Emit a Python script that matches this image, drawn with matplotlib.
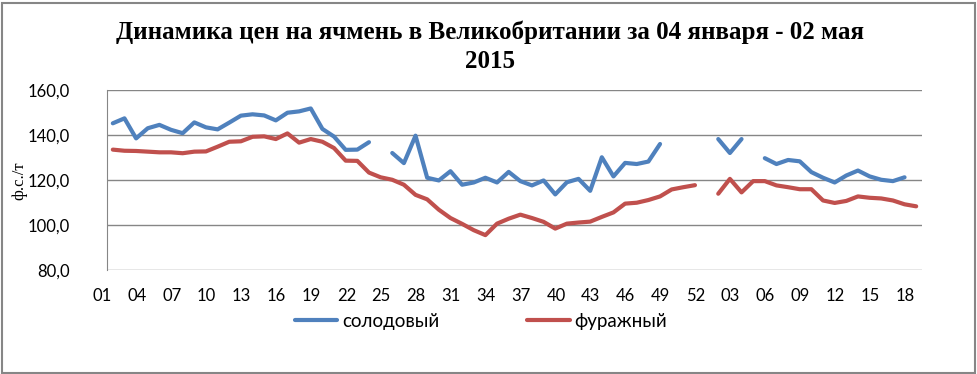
import numpy as np
import matplotlib
matplotlib.use("Agg")
import matplotlib.pyplot as plt
import matplotlib.transforms as mtransforms
from matplotlib.patches import Rectangle

nan = np.nan

# weeks: 2014 weeks 01..52, then 2015 weeks 01..18
weeks = [f"{w:02d}" for w in range(1, 53)] + [f"{w:02d}" for w in range(1, 19)]

malting = [145.2, 147.4, 138.5, 143.0, 144.5, 142.3, 140.8, 145.6, 143.4, 142.5,
           145.5, 148.6, 149.2, 148.7, 146.5, 149.9, 150.5, 151.8, 142.7, 139.3,
           133.4, 133.5, 136.8, nan, 132.0, 127.5, 139.7, 121.0, 119.8, 123.9,
           117.9, 118.9, 121.0, 118.9, 123.6, 119.5, 117.6, 119.8, 113.6, 119.0,
           120.5, 115.2, 130.1, 121.6, 127.6, 127.1, 128.2, 136.0, nan, nan,
           nan, nan, 138.2, 132.0, 138.2, nan, 129.7, 127.1, 128.9, 128.3,
           123.5, 121.0, 118.9, 122.0, 124.2, 121.6, 120.1, 119.5, 121.2, nan]

feed = [133.5, 133.0, 132.9, 132.6, 132.3, 132.3, 131.9, 132.6, 132.7, 134.8,
        137.0, 137.2, 139.2, 139.4, 138.2, 140.7, 136.6, 138.2, 137.0, 134.2,
        128.6, 128.5, 123.3, 121.2, 120.1, 117.9, 113.4, 111.4, 106.8, 103.1,
        100.5, 97.7, 95.5, 100.6, 102.8, 104.6, 103.1, 101.4, 98.4, 100.6,
        101.1, 101.5, 103.6, 105.6, 109.5, 109.9, 111.1, 112.7, 115.8, 116.8,
        117.7, nan, 113.9, 120.5, 114.5, 119.5, 119.5, 117.6, 116.8, 115.9,
        115.9, 110.9, 109.8, 110.7, 112.7, 112.1, 111.8, 110.9, 109.2, 108.3]

plt.rcParams['font.family'] = ['Lato', 'DejaVu Sans']

fig = plt.figure(figsize=(9.77, 3.74), dpi=100)
ax = fig.add_axes([107/977, 1 - 270/374, 815/977, 180/374])

x = np.arange(len(weeks))
ax.plot(x, malting, color='#4F81BD', lw=3, solid_joinstyle='round',
        solid_capstyle='round', label='солодовый')
ax.plot(x, feed, color='#C0504D', lw=3, solid_joinstyle='round',
        solid_capstyle='round', label='фуражный')

ax.set_xlim(-0.5, len(weeks) - 0.5)
ax.set_ylim(80, 160)
ax.set_yticks(range(80, 161, 20))
ax.set_yticklabels([f"{v:.1f}".replace('.', ',') for v in range(80, 161, 20)])
ax.set_xticks(x[::3])
ax.set_xticklabels([weeks[i] for i in x[::3]])
ax.tick_params(axis='both', length=0, labelsize=12, colors='black')
ax.tick_params(axis='y', pad=27)
ax.tick_params(axis='x', pad=13)

# labels sit a little left of the points, as in the original
shift = mtransforms.ScaledTranslation(-11/100, 0, fig.dpi_scale_trans)
for lab in ax.get_xticklabels():
    lab.set_transform(lab.get_transform() + shift)

ax.grid(axis='y', color='#868686', lw=1)
for s in ['top', 'right', 'bottom']:
    ax.spines[s].set_visible(False)
ax.spines['left'].set_color('#868686')
ax.set_axisbelow(True)

fig.text(19/977, 1 - 181/374, 'ф.с./т', rotation=90, ha='center', va='center',
         fontsize=12, family='Liberation Serif')

fig.text(490/977, 1 - 32/374, 'Динамика цен на ячмень в Великобритании за 04 января - 02 мая',
         ha='center', va='center', fontsize=18, fontweight='bold', family='Liberation Serif')
fig.text(490/977, 1 - 61/374, '2015',
         ha='center', va='center', fontsize=18, fontweight='bold', family='Liberation Serif')

fig.legend(loc='center', bbox_to_anchor=(481/977, 1 - 321/374), ncol=2, frameon=False,
           fontsize=13.5, handlelength=2.25, handletextpad=0.25, columnspacing=4.7)

fig.patches.append(Rectangle((1.5/977, 1.5/374), 973/977, 370/374, transform=fig.transFigure,
                             fill=False, edgecolor='#868686', lw=1.5))

fig.savefig('out.png', dpi=100)
